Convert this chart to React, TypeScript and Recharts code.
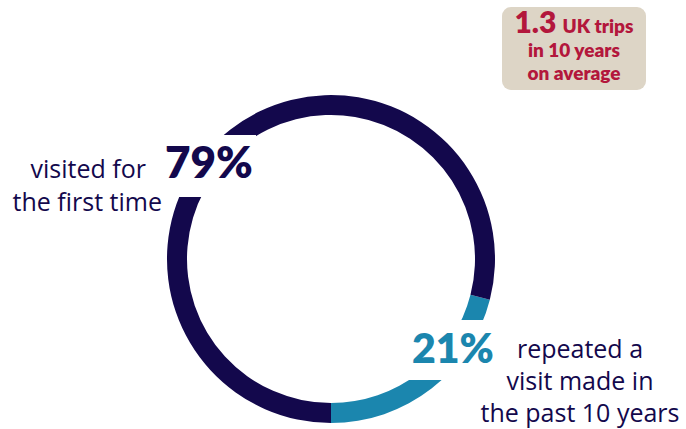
import React from 'react';
import { PieChart, Pie, Cell, Customized } from 'recharts';

// share of visitors (%)
const segments = ['repeated a visit made in the past 10 years', 'visited for the first time'];
const shares = [21, 79];
const segmentColors = ['#1b86ae', '#13084c'];

const firstTimeLines = ['visited for', 'the first time'];
const repeatLines = ['repeated a', 'visit made in', 'the past 10 years'];
const calloutValue = '1.3';
const calloutLines = ['UK trips', 'in 10 years', 'on average'];

const FONT = 'Lato, "Noto Sans", sans-serif';
const BODY_FONT = '"Open Sans", "Noto Sans", sans-serif';
const NAVY = '#13084c';
const RED = '#b3173c';

const data = segments.map((name, i) => ({ name, value: shares[i] }));

const renderLabel = (props: any) => {
  const { cx, cy, index, value } = props;
  if (index === 1) {
    // big 79% knocked out of the ring on the left
    return (
      <g>
        <rect x={cx - 175} y={cy - 124} width={100} height={62} fill="#fff" />
        <text x={cx - 166} y={cy - 81} fill={NAVY} fontFamily={FONT} fontWeight={800} fontSize={44}>
          {value}%
        </text>
        {firstTimeLines.map((t, i) => (
          <text key={t} x={cx - 185 + i * 16} y={cy - 81 + i * 33} textAnchor="end" fill={NAVY} fontFamily={BODY_FONT} fontSize={25}>
            {t}
          </text>
        ))}
      </g>
    );
  }
  return (
    <g>
      <rect x={cx + 72} y={cy + 61} width={100} height={60} fill="#fff" />
      <text x={cx + 81} y={cy + 104} fill={segmentColors[0]} fontFamily={FONT} fontWeight={800} fontSize={41}>
        {value}%
      </text>
      {repeatLines.map((t, i) => (
        <text key={t} x={cx + 249} y={cy + 99 + i * 32} textAnchor="middle" fill={NAVY} fontFamily={BODY_FONT} fontSize={25}>
          {t}
        </text>
      ))}
    </g>
  );
};

const Callout = () => (
  <g>
    <rect x={502} y={7} width={144} height={83} rx={9} fill="#ddd5c6" />
    <text x={574} y={33} textAnchor="middle" fill={RED} fontFamily={FONT} fontWeight={800}>
      <tspan fontSize={30}>{calloutValue}</tspan>
      <tspan fontSize={19} dx={6}>{calloutLines[0]}</tspan>
    </text>
    {calloutLines.slice(1).map((t, i) => (
      <text key={t} x={574} y={57 + i * 23} textAnchor="middle" fill={RED} fontFamily={FONT} fontWeight={800} fontSize={19}>
        {t}
      </text>
    ))}
  </g>
);

export default function App() {
  return (
    <div style={{ position: 'absolute', left: 0, top: 0, width: 686, height: 429, background: '#fff' }}>
      <PieChart width={686} height={429} margin={{ top: 0, right: 0, bottom: 0, left: 0 }}>
        <Pie
          data={data}
          dataKey="value"
          nameKey="name"
          cx={331}
          cy={259}
          innerRadius={144}
          outerRadius={164}
          startAngle={-90}
          endAngle={270}
          stroke="none"
          label={renderLabel}
          labelLine={false}
          isAnimationActive={false}
        >
          {data.map((d, i) => (
            <Cell key={d.name} fill={segmentColors[i]} />
          ))}
        </Pie>
        <Customized component={Callout} />
      </PieChart>
    </div>
  );
}
